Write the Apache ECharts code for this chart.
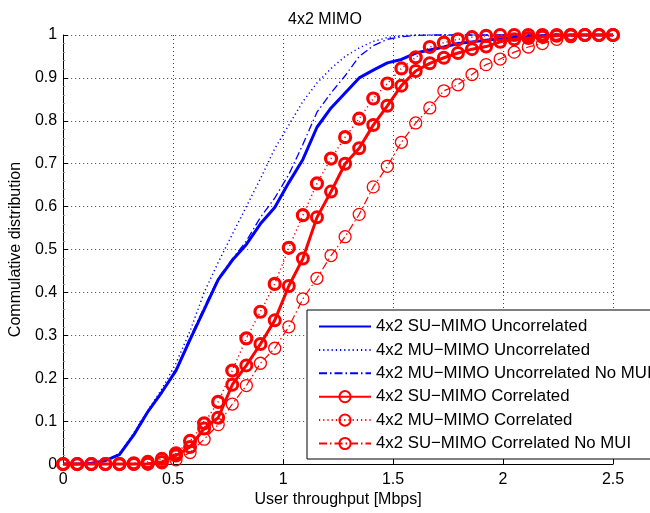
<!DOCTYPE html>
<html>
<head>
<meta charset="utf-8">
<script src="https://cdn.jsdelivr.net/npm/echarts@6/dist/echarts.min.js"></script>
<style>
  html, body { margin: 0; padding: 0; background: #fff; }
  #chart { width: 650px; height: 513px; }
</style>
</head>
<body>
<div id="chart"></div>
<script>
// throughput grid [Mbps]
var throughput = [0, 0.064, 0.128, 0.192, 0.256, 0.321, 0.385, 0.449, 0.513, 0.577,
  0.641, 0.705, 0.769, 0.833, 0.897, 0.962, 1.026, 1.090, 1.154, 1.218,
  1.282, 1.346, 1.410, 1.474, 1.538, 1.603, 1.667, 1.731, 1.795, 1.859,
  1.923, 1.987, 2.051, 2.115, 2.179, 2.244, 2.308, 2.372, 2.436, 2.5];

var suUncorr = [0, 0, 0.002, 0.008, 0.022, 0.068, 0.122, 0.168, 0.218, 0.29,
  0.36, 0.43, 0.475, 0.512, 0.56, 0.598, 0.656, 0.71, 0.785, 0.83,
  0.865, 0.90, 0.918, 0.935, 0.943, 0.958, 0.965, 0.972, 0.98, 0.984,
  0.988, 0.991, 0.994, 0.996, 0.998, 0.999, 1, 1, 1, 1];

var muUncorr = [0, 0, 0.002, 0.008, 0.025, 0.072, 0.125, 0.175, 0.235, 0.31,
  0.40, 0.47, 0.535, 0.60, 0.665, 0.735, 0.79, 0.845, 0.888, 0.922,
  0.95, 0.97, 0.985, 0.994, 0.998, 1, 1, 1, 1, 1,
  1, 1, 1, 1, 1, 1, 1, 1, 1, 1];

var muUncorrNoMui = [0, 0, 0.002, 0.008, 0.022, 0.066, 0.12, 0.166, 0.22, 0.295,
  0.365, 0.433, 0.478, 0.52, 0.575, 0.62, 0.675, 0.745, 0.82, 0.865,
  0.905, 0.95, 0.975, 0.99, 0.996, 0.999, 1, 1, 1, 1,
  1, 1, 1, 1, 1, 1, 1, 1, 1, 1];

var suCorr = [0, 0, 0, 0, 0, 0, 0.001, 0.005, 0.02, 0.04,
  0.083, 0.108, 0.185, 0.23, 0.28, 0.335, 0.415, 0.479, 0.575, 0.635,
  0.70, 0.736, 0.79, 0.835, 0.882, 0.916, 0.934, 0.947, 0.958, 0.967,
  0.973, 0.984, 0.99, 0.993, 0.996, 0.998, 1, 1, 1, 1];

var muCorr = [0, 0, 0, 0, 0, 0.002, 0.005, 0.012, 0.025, 0.054,
  0.095, 0.145, 0.218, 0.293, 0.355, 0.42, 0.504, 0.58, 0.654, 0.712,
  0.762, 0.805, 0.852, 0.887, 0.922, 0.948, 0.972, 0.982, 0.99, 0.995,
  0.998, 1, 1, 1, 1, 1, 1, 1, 1, 1];

var suCorrNoMui = [0, 0, 0, 0, 0, 0, 0, 0.003, 0.01, 0.027,
  0.058, 0.092, 0.14, 0.183, 0.235, 0.27, 0.32, 0.385, 0.433, 0.486,
  0.53, 0.582, 0.646, 0.694, 0.75, 0.795, 0.83, 0.87, 0.884, 0.908,
  0.931, 0.944, 0.96, 0.972, 0.98, 0.99, 0.996, 1, 1, 1];

var seriesNames = [
  '4x2 SU\u2212MIMO Uncorrelated',
  '4x2 MU\u2212MIMO Uncorrelated',
  '4x2 MU\u2212MIMO Uncorrelated No MUI',
  '4x2 SU\u2212MIMO Correlated',
  '4x2 MU\u2212MIMO Correlated',
  '4x2 SU\u2212MIMO Correlated No MUI'
];

function pairs(vals) {
  return throughput.map(function (x, i) { return [x, vals[i]]; });
}

var font = 'Liberation Sans, Arial, Helvetica, sans-serif';
var dotted = [1.2, 3];
var dashDot = [8, 3, 1.5, 3];
var noMarker = { color: 'rgba(0,0,0,0)', borderWidth: 0 };

function blueLine(name, vals, width, type) {
  return {
    name: name, type: 'line', data: pairs(vals),
    symbol: 'none', clip: false,
    lineStyle: { color: '#0000ff', width: width, type: type },
    itemStyle: { color: '#0000ff' }
  };
}

function redLine(name, vals, width, type, size, border) {
  return {
    name: name, type: 'line', data: pairs(vals),
    symbol: 'circle', symbolSize: size, showAllSymbol: true, clip: false,
    lineStyle: { color: '#ff0000', width: width, type: type },
    itemStyle: { color: 'rgba(255,255,255,0)', borderColor: '#ff0000', borderWidth: border }
  };
}

var myChart = echarts.init(document.getElementById('chart'));
var option = {
  animation: false,
  backgroundColor: '#fff',
  title: {
    text: '4x2 MIMO',
    left: 'center',
    top: 7,
    textStyle: { fontFamily: font, fontSize: 16, fontWeight: 'normal', color: '#000' }
  },
  grid: { left: 62, right: 37, top: 35, bottom: 46 },
  legend: {
    orient: 'vertical',
    left: 307,
    top: 310,
    padding: [8, 10, 7, 11],
    itemGap: 6.4,
    itemWidth: 52,
    itemHeight: 14,
    borderColor: '#000',
    borderWidth: 1,
    borderRadius: 0,
    backgroundColor: '#fff',
    textStyle: { fontFamily: font, fontSize: 16.8, color: '#000' },
    data: [
      { name: seriesNames[0], itemStyle: noMarker },
      { name: seriesNames[1], itemStyle: noMarker },
      { name: seriesNames[2], itemStyle: noMarker },
      seriesNames[3], seriesNames[4], seriesNames[5]
    ]
  },
  xAxis: {
    type: 'value',
    min: 0, max: 2.5, interval: 0.5,
    name: 'User throughput [Mbps]',
    nameLocation: 'middle',
    nameGap: 27,
    nameTextStyle: { fontFamily: font, fontSize: 16, color: '#000' },
    axisLine: { show: true, lineStyle: { color: '#000', width: 1 } },
    axisTick: { show: true, inside: true, length: 5, lineStyle: { color: '#000' } },
    axisLabel: { fontFamily: font, fontSize: 16, color: '#000', margin: 7 },
    splitLine: { show: true, lineStyle: { color: '#444', width: 1, type: [1, 3] } }
  },
  yAxis: {
    type: 'value',
    min: 0, max: 1, interval: 0.1,
    name: 'Commulative distribution',
    nameLocation: 'middle',
    nameGap: 36,
    nameTextStyle: { fontFamily: font, fontSize: 16, color: '#000' },
    axisLine: { show: true, lineStyle: { color: '#000', width: 1 } },
    axisTick: { show: true, inside: true, length: 5, lineStyle: { color: '#000' } },
    minorTick: { show: true, splitNumber: 5, length: 2, lineStyle: { color: '#999' } },
    axisLabel: { fontFamily: font, fontSize: 16, color: '#000', margin: 6 },
    splitLine: { show: true, lineStyle: { color: '#444', width: 1, type: [1, 3] } }
  },
  series: [
    blueLine(seriesNames[0], suUncorr, 3, 'solid'),
    blueLine(seriesNames[1], muUncorr, 1.5, dotted),
    blueLine(seriesNames[2], muUncorrNoMui, 1.3, dashDot),
    redLine(seriesNames[3], suCorr, 3, 'solid', 11, 3),
    redLine(seriesNames[4], muCorr, 1.5, dotted, 11, 3.2),
    redLine(seriesNames[5], suCorrNoMui, 1.2, dashDot, 12, 1.3)
  ]
};
myChart.setOption(option);
</script>
</body>
</html>
